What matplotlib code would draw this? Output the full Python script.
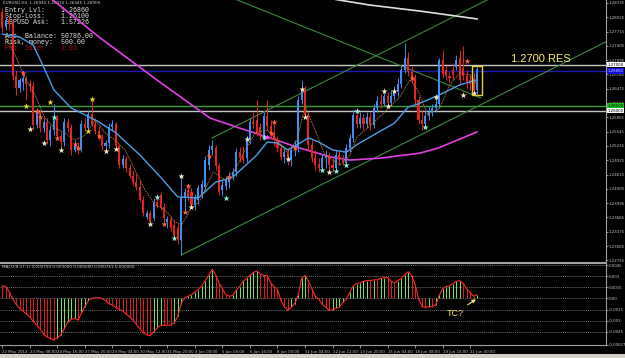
import numpy as np
import matplotlib.pyplot as plt
from matplotlib.patches import Rectangle

# EURUSD H4 candles
opens = [
    1.2814, 1.2781, 1.2797, 1.2788, 1.2675, 1.2649, 1.2662, 1.2671, 1.2658, 1.2654,
    1.2569, 1.2597, 1.2562, 1.2576, 1.2536, 1.2558, 1.2584, 1.2545, 1.2532, 1.2576,
    1.2562, 1.2515, 1.2523, 1.2515, 1.2571, 1.2562, 1.2593, 1.2571, 1.2556, 1.2543,
    1.2523, 1.2530, 1.2565, 1.2571, 1.2523, 1.2482, 1.2495, 1.2476, 1.2458, 1.2445,
    1.2435, 1.2406, 1.2370, 1.2378, 1.2367, 1.2402, 1.2417, 1.2391, 1.2359, 1.2365,
    1.2352, 1.2346, 1.2320, 1.2411, 1.2428, 1.2424, 1.2396, 1.2406, 1.2417, 1.2435,
    1.2482, 1.2515, 1.2519, 1.2480, 1.2428, 1.2437, 1.2445, 1.2458, 1.2467, 1.2510,
    1.2502, 1.2497, 1.2536, 1.2576, 1.2580, 1.2565, 1.2545, 1.2589, 1.2567, 1.2552,
    1.2536, 1.2519, 1.2500, 1.2510, 1.2493, 1.2515, 1.2519, 1.2623, 1.2645, 1.2591,
    1.2526, 1.2497, 1.2484, 1.2476, 1.2497, 1.2504, 1.2482, 1.2476, 1.2504, 1.2493,
    1.2487, 1.2519, 1.2541, 1.2591, 1.2571, 1.2584, 1.2571, 1.2586, 1.2569, 1.2606,
    1.2621, 1.2615, 1.2632, 1.2617, 1.2632, 1.2641, 1.2658, 1.2688, 1.2714, 1.2684,
    1.2671, 1.2623, 1.2580, 1.2571, 1.2589, 1.2597, 1.2606, 1.2615, 1.2710, 1.2688,
    1.2675, 1.2688, 1.2695, 1.2714, 1.2693, 1.2675, 1.2667, 1.2671, 1.2645]
highs = [
    1.2823, 1.2803, 1.2807, 1.2797, 1.2688, 1.2671, 1.2680, 1.2675, 1.2667, 1.2662,
    1.2606, 1.2602, 1.2584, 1.2584, 1.2569, 1.2615, 1.2591, 1.2554, 1.2584, 1.2584,
    1.2571, 1.2536, 1.2532, 1.2580, 1.2584, 1.2602, 1.2628, 1.2584, 1.2567, 1.2549,
    1.2536, 1.2573, 1.2580, 1.2576, 1.2528, 1.2504, 1.2502, 1.2484, 1.2471, 1.2463,
    1.2450, 1.2415, 1.2385, 1.2385, 1.2411, 1.2417, 1.2424, 1.2400, 1.2372, 1.2372,
    1.2363, 1.2354, 1.2458, 1.2432, 1.2441, 1.2432, 1.2419, 1.2439, 1.2450, 1.2502,
    1.2526, 1.2536, 1.2526, 1.2487, 1.2450, 1.2458, 1.2467, 1.2476, 1.2519, 1.2521,
    1.2523, 1.2545, 1.2584, 1.2597, 1.2623, 1.2573, 1.2597, 1.2623, 1.2580, 1.2571,
    1.2545, 1.2528, 1.2519, 1.2519, 1.2523, 1.2536, 1.2632, 1.2667, 1.2654, 1.2597,
    1.2536, 1.2515, 1.2497, 1.2506, 1.2515, 1.2510, 1.2497, 1.2515, 1.2515, 1.2504,
    1.2528, 1.2549, 1.2602, 1.2606, 1.2597, 1.2593, 1.2597, 1.2597, 1.2615, 1.2632,
    1.2636, 1.2645, 1.2641, 1.2645, 1.2654, 1.2671, 1.2697, 1.2747, 1.2727, 1.2697,
    1.2680, 1.2632, 1.2602, 1.2602, 1.2610, 1.2615, 1.2628, 1.2714, 1.2732, 1.2697,
    1.2684, 1.2703, 1.2721, 1.2732, 1.2740, 1.2688, 1.2680, 1.2684, 1.2695]
lows = [
    1.2771, 1.2775, 1.2775, 1.2667, 1.2634, 1.2641, 1.2645, 1.2623, 1.2641, 1.2558,
    1.2562, 1.2554, 1.2554, 1.2528, 1.2523, 1.2547, 1.2536, 1.2519, 1.2523, 1.2554,
    1.2504, 1.2510, 1.2506, 1.2510, 1.2556, 1.2556, 1.2567, 1.2549, 1.2536, 1.2515,
    1.2510, 1.2519, 1.2558, 1.2515, 1.2476, 1.2476, 1.2467, 1.2454, 1.2439, 1.2428,
    1.2402, 1.2372, 1.2365, 1.2352, 1.2363, 1.2389, 1.2385, 1.2359, 1.2346, 1.2339,
    1.2320, 1.2311, 1.2287, 1.2380, 1.2406, 1.2389, 1.2385, 1.2398, 1.2411, 1.2428,
    1.2471, 1.2504, 1.2471, 1.2417, 1.2415, 1.2428, 1.2432, 1.2450, 1.2458, 1.2489,
    1.2487, 1.2489, 1.2528, 1.2562, 1.2545, 1.2536, 1.2536, 1.2558, 1.2541, 1.2523,
    1.2510, 1.2493, 1.2487, 1.2482, 1.2480, 1.2502, 1.2510, 1.2615, 1.2584, 1.2515,
    1.2489, 1.2471, 1.2467, 1.2467, 1.2476, 1.2467, 1.2467, 1.2467, 1.2482, 1.2482,
    1.2480, 1.2510, 1.2532, 1.2562, 1.2562, 1.2558, 1.2562, 1.2558, 1.2562, 1.2597,
    1.2606, 1.2610, 1.2606, 1.2610, 1.2623, 1.2632, 1.2649, 1.2682, 1.2675, 1.2662,
    1.2615, 1.2571, 1.2558, 1.2562, 1.2580, 1.2589, 1.2597, 1.2606, 1.2671, 1.2667,
    1.2660, 1.2667, 1.2688, 1.2658, 1.2667, 1.2649, 1.2645, 1.2641, 1.2636]
closes = [
    1.2779, 1.2797, 1.2788, 1.2675, 1.2649, 1.2667, 1.2671, 1.2658, 1.2654, 1.2569,
    1.2597, 1.2562, 1.2576, 1.2536, 1.2558, 1.2584, 1.2545, 1.2532, 1.2576, 1.2562,
    1.2515, 1.2523, 1.2515, 1.2571, 1.2562, 1.2593, 1.2571, 1.2556, 1.2543, 1.2523,
    1.2530, 1.2565, 1.2571, 1.2523, 1.2482, 1.2495, 1.2476, 1.2458, 1.2445, 1.2435,
    1.2406, 1.2378, 1.2378, 1.2359, 1.2402, 1.2396, 1.2391, 1.2367, 1.2365, 1.2346,
    1.2328, 1.2320, 1.2411, 1.2424, 1.2413, 1.2396, 1.2413, 1.2432, 1.2441, 1.2493,
    1.2515, 1.2523, 1.2480, 1.2424, 1.2439, 1.2450, 1.2458, 1.2467, 1.2510, 1.2497,
    1.2493, 1.2536, 1.2576, 1.2571, 1.2552, 1.2545, 1.2589, 1.2567, 1.2552, 1.2536,
    1.2519, 1.2500, 1.2510, 1.2493, 1.2515, 1.2521, 1.2623, 1.2645, 1.2591, 1.2526,
    1.2497, 1.2482, 1.2476, 1.2497, 1.2504, 1.2482, 1.2476, 1.2504, 1.2493, 1.2489,
    1.2519, 1.2541, 1.2591, 1.2571, 1.2584, 1.2571, 1.2586, 1.2569, 1.2606, 1.2621,
    1.2615, 1.2632, 1.2617, 1.2632, 1.2641, 1.2658, 1.2688, 1.2714, 1.2684, 1.2671,
    1.2623, 1.2580, 1.2571, 1.2589, 1.2597, 1.2606, 1.2615, 1.2710, 1.2680, 1.2675,
    1.2671, 1.2677, 1.2710, 1.2667, 1.2675, 1.2662, 1.2658, 1.2645, 1.2690]

# MACD(8,17,1) histogram, one value per candle
macd = [
    0.0017, 0.0016, 0.0009, 0.0000, -0.0008, -0.0013, -0.0017, -0.0021, -0.0025, -0.0031,
    -0.0036, -0.0041, -0.0048, -0.0052, -0.0054, -0.0056, -0.0053, -0.0049, -0.0041, -0.0032,
    -0.0028, -0.0027, -0.0029, -0.0020, -0.0011, -0.0003, 0.0000, 0.0001, 0.0001, 0.0000,
    -0.0003, -0.0007, -0.0009, -0.0012, -0.0015, -0.0017, -0.0021, -0.0025, -0.0029, -0.0035,
    -0.0041, -0.0046, -0.0049, -0.0050, -0.0045, -0.0040, -0.0036, -0.0036, -0.0036, -0.0036,
    -0.0033, -0.0024, -0.0007, 0.0001, 0.0003, 0.0005, 0.0009, 0.0012, 0.0017, 0.0024,
    0.0031, 0.0039, 0.0032, 0.0021, 0.0013, 0.0005, 0.0003, 0.0004, 0.0011, 0.0016,
    0.0023, 0.0027, 0.0031, 0.0035, 0.0037, 0.0033, 0.0031, 0.0031, 0.0021, 0.0016,
    0.0012, -0.0003, -0.0011, -0.0016, -0.0012, -0.0007, 0.0004, 0.0027, 0.0031, 0.0023,
    0.0013, 0.0003, -0.0001, -0.0008, -0.0012, -0.0016, -0.0015, -0.0013, -0.0012, -0.0005,
    -0.0001, 0.0008, 0.0017, 0.0020, 0.0021, 0.0023, 0.0024, 0.0024, 0.0025, 0.0025,
    0.0027, 0.0028, 0.0028, 0.0023, 0.0021, 0.0024, 0.0027, 0.0032, 0.0036, 0.0031,
    0.0019, 0.0000, -0.0011, -0.0012, -0.0011, -0.0011, -0.0009, 0.0004, 0.0013, 0.0016,
    0.0017, 0.0020, 0.0023, 0.0024, 0.0020, 0.0013, 0.0008, 0.0003, 0.0005]

# moving averages as drawn (bar index, price)
blue_ma_x = [0, 5, 9, 12, 15, 20, 28, 33, 40, 46, 51, 57, 62, 67, 74, 77, 80, 83, 87, 89,
             92, 96, 100, 103, 109, 114, 118, 121, 127, 133, 138]
blue_ma_y = [1.2766, 1.2760, 1.2742, 1.2695, 1.2645, 1.2606, 1.2576, 1.2552, 1.2504, 1.2456,
             1.2413, 1.2411, 1.2445, 1.2456, 1.2504, 1.2532, 1.2530, 1.2515, 1.2532, 1.2541,
             1.2532, 1.2515, 1.2510, 1.2526, 1.2552, 1.2573, 1.2608, 1.2615, 1.2634, 1.2656,
             1.2667]
fast_ma_x = [0.8, 3.7, 6.6, 9.5, 12.4, 15.3, 18.2, 21.1, 24.0, 27.0,
             29.9, 32.8, 35.7, 38.6, 41.5, 44.4, 47.3, 50.2, 52.2, 54.6,
             57.5, 61.3, 64.7, 67.6, 70.6, 73.5, 77.0, 79.9, 82.8, 85.7,
             88.0, 90.3, 93.8, 98.2, 101.1, 103.1, 107.8, 111.8, 115.6, 118.5,
             120.8, 123.7, 127.2, 130.1, 133.0, 135.9, 138.0]
fast_ma_y = [1.2764, 1.2721, 1.2671, 1.2634, 1.2584, 1.2562, 1.2552, 1.2536, 1.2547, 1.2580,
             1.2552, 1.2536, 1.2515, 1.2471, 1.2428, 1.2396, 1.2385, 1.2359, 1.2352, 1.2385,
             1.2406, 1.2467, 1.2450, 1.2471, 1.2515, 1.2552, 1.2558, 1.2536, 1.2510, 1.2536,
             1.2612, 1.2569, 1.2504, 1.2482, 1.2504, 1.2543, 1.2573, 1.2602, 1.2630, 1.2667,
             1.2645, 1.2591, 1.2606, 1.2656, 1.2682, 1.2677, 1.2656]
slow_ma_x = [10, 14.7, 28.4, 45.8, 60.4, 69.1, 77.0, 86.5, 95.3, 101.1, 109.8, 121.4, 126.7, 138]
slow_ma_y = [1.2868, 1.2840, 1.2758, 1.2662, 1.2584, 1.2562, 1.2543, 1.2519, 1.2500, 1.2493,
             1.2497, 1.2508, 1.2519, 1.2554]
long_ma_x = [97, 106.9, 121.4, 138]
long_ma_y = [1.2841, 1.2829, 1.2816, 1.2799]

# trend lines: two anchor points each
chan_low_x, chan_low_y = [52, 138], [1.2287, 1.2609]
chan_up_x, chan_up_y = [61, 138], [1.2541, 1.2829]
desc_x, desc_y = [68, 139], [1.2841, 1.2628]

# horizontal levels
res_level = 1.2700
entry_level = 1.2686
stop_level = 1.2610
sup_level = 1.2600

# signal stars
star_x = [6, 7, 8, 10, 11, 12, 14, 15, 16, 17, 21, 22, 25, 26, 28, 30, 33, 43, 45, 47,
          50, 52, 53, 54, 55, 60, 65, 66, 71, 76, 77, 78, 79, 83, 85, 87, 88, 93, 95, 97,
          100, 103, 111, 112, 114, 119, 123, 126, 134, 135, 137]
star_y = [1.2682, 1.2610, 1.2560, 1.2599, 1.2586, 1.2530, 1.2619, 1.2586, 1.2541, 1.2515,
          1.2528, 1.2519, 1.2556, 1.2625, 1.2545, 1.2513, 1.2517, 1.2354, 1.2413, 1.2354,
          1.2324, 1.2458, 1.2380, 1.2437, 1.2391, 1.2502, 1.2411, 1.2456, 1.2539, 1.2543,
          1.2543, 1.2552, 1.2576, 1.2495, 1.2519, 1.2647, 1.2586, 1.2471, 1.2467, 1.2469,
          1.2482, 1.2599, 1.2643, 1.2610, 1.2643, 1.2671, 1.2565, 1.2630, 1.2634, 1.2708,
          1.2638]
star_kind = ['o', 'y', 'w', 'o', 'o', 'w', 'y', 'c', 'o', 'w', 'o', 'o', 'y', 'y', 'o', 'w',
             'w', 'w', 'c', 'o', 'c', 'w', 'o', 'o', 'w', 'o', 'c', 'o', 'w', 'c', 'm', 'o',
             'o', 'w', 'o', 'w', 'w', 'c', 'w', 'c', 'c', 'c', 'w', 'w', 'w', 'o', 'c', 'w',
             'w', 'o', 'w']

price_ticks = [1.28335, 1.28025, 1.27715, 1.27405, 1.27095, 1.26785, 1.26475, 1.26165,
               1.25855, 1.25545, 1.25235, 1.24925, 1.24615, 1.24305, 1.23995, 1.23685,
               1.23375, 1.23065, 1.22755]
macd_ticks = [0.0045, 0.003, 0.0015, 0.0, -0.0015, -0.003, -0.0045, -0.00627]
macd_tick_labels = ['0.0045', '0.003', '0.0015', '0.00', '-0.0015', '-0.003', '-0.0045', '-0.00627']
time_labels = ['22 May 2012', '23 May 08:00', '24 May 16:00', '27 May 20:00', '29 May 04:00',
               '30 May 12:00', '31 May 20:00', '4 Jun 00:00', '5 Jun 08:00', '6 Jun 16:00',
               '8 Jun 00:00', '11 Jun 04:00', '12 Jun 12:00', '13 Jun 20:00', '15 Jun 04:00',
               '18 Jun 08:00', '19 Jun 16:00', '21 Jun 00:00']

info_lines = ['Entry Lvl:    1.26860', 'Stop-Loss:    1.26100', 'GBPUSD Ask:   1.57226', '',
              'Acc. Balance: 50786.00', 'Risk, money:  500.00', 'Pos. Size:    1.03']

BLUE = '#3a8ff0'
RED = '#e8231e'
GRID = '#c8c8c8'
star_colors = {'w': '#f4ecc4', 'o': '#ff6233', 'y': '#f2d524', 'c': '#8af5d8', 'm': '#ff44ff'}

W, H = 625, 358
fig = plt.figure(figsize=(W / 100, H / 100), dpi=100, facecolor='black')
ax = fig.add_axes([0, 1 - 262 / H, 606 / W, 262 / H], facecolor='black')
axm = fig.add_axes([0, 1 - 345 / H, 606 / W, 82 / H], facecolor='black')
ax.set_zorder(1)

xlim = (-0.67, 175.5)
bars = np.arange(len(closes))
o, hi, lo, c = (np.array(a) for a in (opens, highs, lows, closes))
col = np.where(c >= o, BLUE, RED)

# info texts (under the candles)
ax.text(3 / 606, 1 - 3 / 262, 'EURUSD,H4  1.26940 1.26910 1.26445 1.26909',
        transform=ax.transAxes, fontsize=3, color='#d0d0d0', va='center', zorder=1)
for k, line in enumerate(info_lines):
    ax.text(5 / 606, 1 - (10 + 6.5 * k) / 262, line, transform=ax.transAxes, fontsize=4.8,
            family='Liberation Mono', color='#b01010' if line.startswith('Pos') else '#e6e6e6',
            va='center', zorder=1)

# horizontal levels
ax.axhline(res_level, color='#c8c8c8', lw=1, zorder=2)
ax.axhline(entry_level, color='#1c1cb0', lw=1, zorder=2)
ax.axhline(stop_level, color='#3aa03a', lw=1, zorder=2)
ax.axhline(sup_level, color='#c8c8c8', lw=1, zorder=2)

# trend lines (rising ones run on to the right edge)
for lx, ly in ((chan_low_x, chan_low_y), (chan_up_x, chan_up_y), (desc_x, desc_y)):
    slope = (ly[1] - ly[0]) / (lx[1] - lx[0])
    x_end = xlim[1] if slope > 0 else lx[1]
    ax.plot([lx[0], x_end], [ly[0], ly[0] + slope * (x_end - lx[0])], color='#3c8a3c',
            lw=0.8, zorder=2)

# slow moving averages
ax.plot(slow_ma_x, slow_ma_y, color='#e040e0', lw=1.2, zorder=3)
ax.plot(long_ma_x, long_ma_y, color='#e0e0e0', lw=1.2, zorder=3)

# candles
ax.vlines(bars, lo, hi, colors=col, lw=0.7, zorder=4)
ax.bar(bars, np.maximum(np.abs(c - o), 0.00012), bottom=np.minimum(o, c), width=0.6,
       color=col, linewidth=0, zorder=5)

ax.plot(blue_ma_x, blue_ma_y, color='#4a9ee8', lw=1, zorder=6)
ax.plot(fast_ma_x, fast_ma_y, color='#b8783c', lw=0.6, ls=(0, (2, 1)), zorder=6)

for kind in star_colors:
    sel = [i for i, k in enumerate(star_kind) if k == kind]
    ax.scatter([star_x[i] for i in sel], [star_y[i] for i in sel], marker='*', s=22,
               color=star_colors[kind], linewidths=0, zorder=7)

# yellow box round the last two candles
box_lo = min(lows[-2:]) - 0.0003
box_hi = max(highs[-2:]) + 0.0002
ax.add_patch(Rectangle((bars[-2] - 0.5, box_lo), 2.9, box_hi - box_lo, fill=False,
                       ec='#e6cf3c', lw=1, zorder=8))
ax.text(148, res_level + 0.0002, '1.2700 RES', fontsize=8, family='Liberation Sans',
        color='#f6f060', va='bottom', ha='left', zorder=8)

ax.set_xlim(*xlim)
ax.set_ylim(1.2272, 1.2840)
ax.yaxis.tick_right()
ax.set_yticks(price_ticks)
ax.set_yticklabels([f'{t:.5f}' for t in price_ticks])
ax.set_xticks([])
ax.tick_params(axis='y', labelsize=2.8, colors=GRID, length=1.2, width=0.5, pad=0.6)
for s in ('top', 'left'):
    ax.spines[s].set_visible(False)
for s in ('right', 'bottom'):
    ax.spines[s].set_color('#a0a0a0')
    ax.spines[s].set_linewidth(0.8)

# level boxes on the price scale
for lvl, fc, tc in ((res_level, '#ffffff', 'black'), (entry_level, '#1010d8', '#c8c8ff'),
                    (stop_level, '#20c020', 'black'), (sup_level, '#ffffff', 'black')):
    ax.text(1.0025, lvl, f'{lvl:.5f}', transform=ax.get_yaxis_transform(), fontsize=2.8,
            color=tc, va='center', ha='left', clip_on=False,
            bbox=dict(boxstyle='square,pad=0.2', fc=fc, ec='none'), zorder=9)

# MACD panel
mac = np.array(macd)
rising = np.r_[False, mac[1:] > mac[:-1]]
axm.vlines(bars, 0, mac, colors=np.where(rising, '#7ae860', '#e02020'), lw=0.7, zorder=3)
axm.plot(bars, mac, color='#ff2a2a', lw=0.8, zorder=4)
for t in macd_ticks[:-1]:
    axm.axhline(t, color='#909090', lw=0.5, ls=(0, (1.5, 1.5)), zorder=1)
axm.text(2 / 606, 0.95, 'MACD(8,17,1) 0.000750 0.000000 0.000000 0.000761 0.000000',
         transform=axm.transAxes, fontsize=3, color='#d0d0d0', va='center', ha='left')
axm.annotate('TC?', xy=(bars[-1], 0), xytext=(-16, -11), textcoords='offset points',
             fontsize=6.5, family='Liberation Sans', color='#f6f060', ha='center', va='center',
             arrowprops=dict(arrowstyle='-|>', color='#f6f060', lw=0.8, mutation_scale=5,
                             shrinkA=2, shrinkB=1))
axm.set_xlim(*xlim)
axm.set_ylim(-0.00627, 0.00477)
axm.yaxis.tick_right()
axm.set_yticks(macd_ticks)
axm.set_yticklabels(macd_tick_labels)
axm.set_xticks(bars[::8])
axm.set_xticklabels(time_labels)
for lbl in axm.get_xticklabels():
    lbl.set_ha('left')
axm.tick_params(labelsize=2.8, colors=GRID, length=1.2, width=0.5, pad=0.6)
axm.tick_params(axis='x', pad=1.5, length=2)
axm.spines['left'].set_visible(False)
for s in ('right', 'bottom', 'top'):
    axm.spines[s].set_color('#a0a0a0')
    axm.spines[s].set_linewidth(0.8)

# window frame strip at the bottom
fig.patches.append(Rectangle((0, 0), 1, 4 / H, transform=fig.transFigure, fc='#d4d0c8',
                             ec='none', zorder=0))

fig.savefig('out.png', dpi=100, facecolor='black')
